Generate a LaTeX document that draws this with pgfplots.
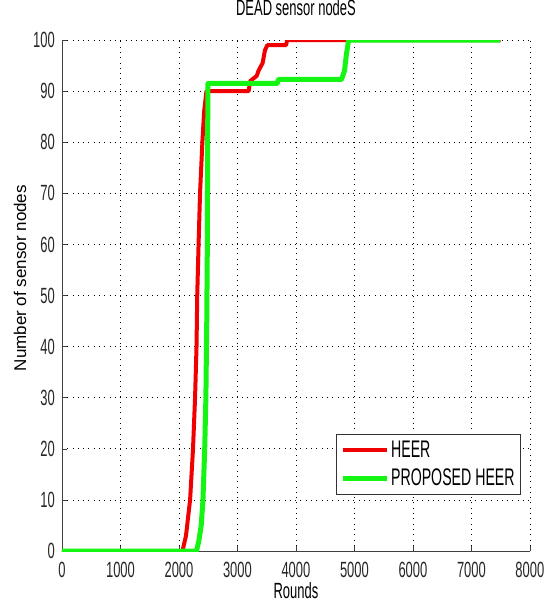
\documentclass[border=0pt]{standalone}
\usepackage{fontspec}
\setmainfont[FakeStretch=0.59]{Liberation Sans}
\newfontfamily\ylfont{Liberation Sans}
\usepackage{pgfplots}
\pgfplotsset{compat=1.18}
\definecolor{hred}{RGB}{240,0,0}
\definecolor{hgreen}{RGB}{20,245,20}
\begin{document}
\begin{tikzpicture}
\begin{axis}[
  name=ax,
  scale only axis,
  width=468pt, height=511pt,
  xmin=0, xmax=8000, ymin=0, ymax=100,
  xtick={0,1000,...,8000},
  ytick={0,10,...,100},
  axis x line*=bottom, axis y line*=left,
  axis line style={black!75, line width=0.8pt, -},
  tick align=inside,
  major tick length=5pt,
  tick style={black!75, line width=0.6pt},
  grid=major,
  major grid style={black, line width=0.8pt, dash pattern=on 0.9pt off 4.4pt},
  scaled x ticks=false,
  /pgf/number format/1000 sep={},
  /pgf/number format/assume math mode=true,
  tick label style={font=\fontsize{22}{24}\selectfont, text=black!85, inner sep=0pt},
  xticklabel style={anchor=center, yshift=-18.5pt},
  yticklabel style={anchor=east, xshift=-7pt},
  title={DEAD sensor nodeS},
  title style={font=\fontsize{22}{24}\selectfont, inner sep=0pt,
    at={([yshift=26pt]rel axis cs:0.5,1)}, anchor=center},
  xlabel={Rounds},
  ylabel={Number of sensor nodes},
  xlabel style={font=\fontsize{22}{24}\selectfont, inner sep=0pt,
    at={([yshift=-40pt]rel axis cs:0.5,0)}, anchor=center},
  ylabel style={font=\ylfont\fontsize{17}{19}\selectfont, inner sep=0pt,
    at={([xshift=-42pt]rel axis cs:0,0.534)}, anchor=center},
  legend style={at={(rel axis cs:0.981,0.11)}, anchor=south east,
    font=\fontsize{24}{26}\selectfont, draw=black!80, line width=0.8pt,
    inner xsep=4pt, inner ysep=5pt, row sep=6pt, cells={anchor=west}},
  legend image code/.code={\draw[#1] (0pt,0pt) -- (44pt,0pt);},
  legend cell align=left,
]
\addplot[hred, line width=4pt, line join=round] coordinates {
(0,0) (2060,0) (2120,3) (2190,10) (2240,20) (2275,30) (2300,40) (2312,50)
(2335,60) (2360,70) (2400,80) (2430,86) (2470,90) (2560,90) (3190,90)
(3220,92) (3330,93) (3360,94) (3430,95.5) (3470,98) (3510,99) (3830,99)
(3850,100) (7500,100)
};
\addlegendentry{HEER}
\addplot[hgreen, line width=5pt, line join=round] coordinates {
(0,0) (2300,0) (2340,2) (2380,5) (2410,10) (2440,20) (2460,30) (2475,45)
(2485,60) (2490,80) (2495,91.5) (3680,91.5) (3700,92.3) (4780,92.3)
(4830,94) (4860,97) (4900,100) (7490,100)
};
\addlegendentry{PROPOSED HEER}
\end{axis}
\path ([xshift=-62pt,yshift=-55pt]ax.south west) rectangle ([xshift=24pt,yshift=40pt]ax.north east);
\end{tikzpicture}
\end{document}
